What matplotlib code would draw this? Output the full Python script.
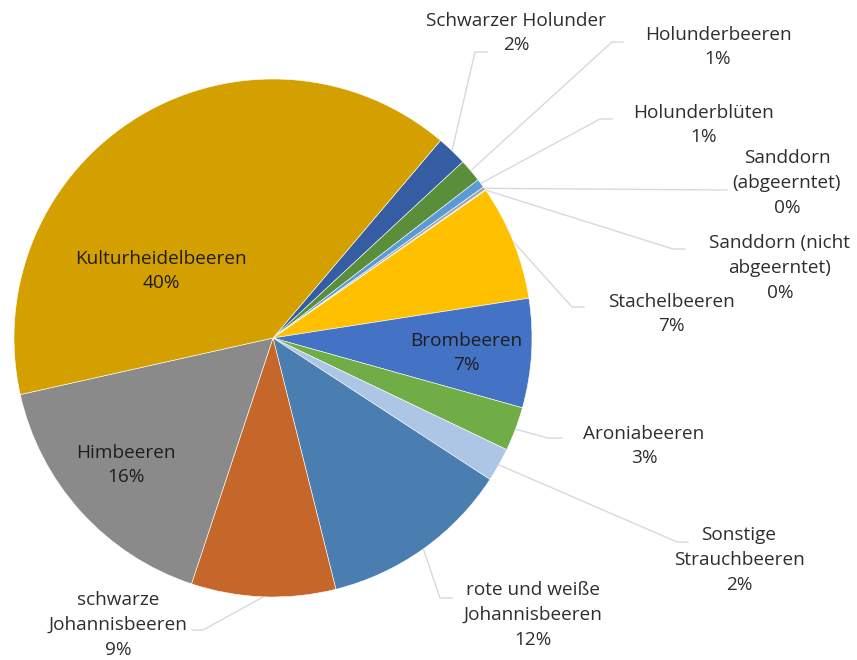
import numpy as np
import matplotlib
matplotlib.use("Agg")
import matplotlib.pyplot as plt

plt.rcParams['font.family'] = ['Open Sans', 'DejaVu Sans']

# Data (clockwise order, starting after Kulturheidelbeeren)
categories = ["Schwarzer Holunder", "Holunderbeeren", "Holunderblüten",
              "Sanddorn\n(abgeerntet)", "Sanddorn (nicht\nabgeerntet)",
              "Stachelbeeren", "Brombeeren", "Aroniabeeren",
              "Sonstige\nStrauchbeeren", "rote und weiße\nJohannisbeeren",
              "schwarze\nJohannisbeeren", "Himbeeren", "Kulturheidelbeeren"]
values = [1.9, 1.45, 0.55, 0.2, 0.05, 7.2, 6.8, 2.75, 2.1, 11.9, 9.0, 16.4, 39.7]
colors = ["#345DA3", "#5A8E3A", "#5B9BD5", "#A5A5A5", "#8FA8D8",
          "#FFC000", "#4472C4", "#70AD47", "#ADC6E6", "#4A7EB0",
          "#C5672A", "#8A8A8A", "#D4A000"]

# Layout (pixel coordinates)
W, H = 857, 660
center = (273, 338)
radius = 259
first_angle = 40.3  # clockwise from 12 o'clock
label_pos = [(516, 33), (718, 47), (704, 125), (787, 183), (780, 268),
             (671, 314), (466, 353), (644, 446), (739, 560), (533, 615),
             (118, 625), (126, 465), (161, 271)]
inside = [False, False, False, False, False, False, True, False, False,
          False, False, True, True]
# leader lines: (elbow, end) per outside label
leaders = {0: [(475, 52), (487, 52)],
           1: [(612, 42), (623, 42)],
           2: [(600, 119), (612, 119)],
           3: [(727, 190)],
           4: [(673, 249), (685, 249)],
           5: [(572, 307), (584, 307)],
           7: [(548, 438), (562, 438)],
           8: [(677, 542), (688, 542)],
           9: [(440, 598), (452, 598)],
           10: [(203, 630), (192, 630)]}

fig = plt.figure(figsize=(W / 100, H / 100), dpi=100)
ax = fig.add_axes([0, 0, 1, 1])
ax.pie(values, colors=colors, startangle=first_angle - 90, counterclock=True,
       center=center, radius=radius,
       wedgeprops=dict(edgecolor="white", linewidth=0.4))
ax.set_xlim(0, W)
ax.set_ylim(H, 0)
ax.set_aspect('equal')
ax.axis('off')

total = sum(values)
cum = np.cumsum([0] + values[:-1])
for i, (cat, v) in enumerate(zip(categories, values)):
    pct = round(100 * v / total)
    txt = f"{cat}\n{pct}%"
    x, y = label_pos[i]
    ax.text(x, y, txt, ha='center', va='center', multialignment='center',
            fontsize=13.7, color='#1E1E1E' if inside[i] else '#2E2E2E',
            linespacing=1.48)
    if i in leaders:
        mid = first_angle + 3.6 * (cum[i] + v / 2)
        sx = center[0] + radius * np.sin(np.radians(mid))
        sy = center[1] - radius * np.cos(np.radians(mid))
        pts = [(sx, sy)] + leaders[i]
        ax.plot([p[0] for p in pts], [p[1] for p in pts], color='#D9D9D9',
                lw=1.0, zorder=0.5)

fig.savefig("out.png", dpi=100)
